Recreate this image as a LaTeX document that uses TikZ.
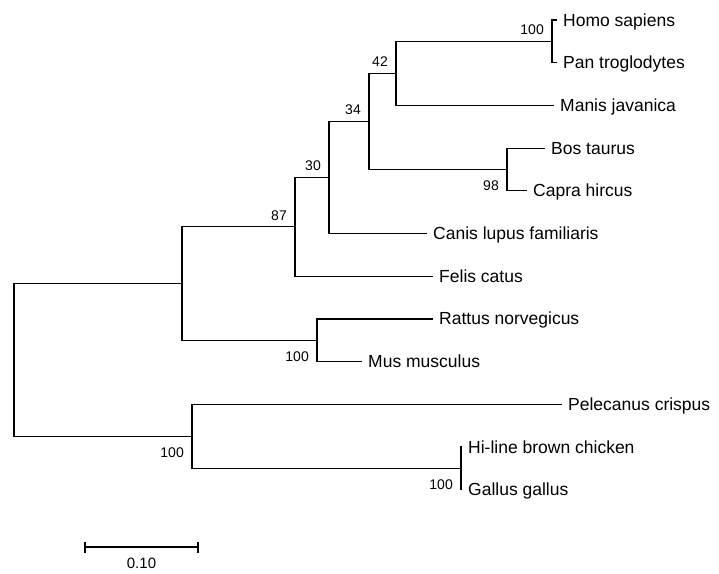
\documentclass[tikz,border=0pt]{standalone}
\usepackage{fontspec}
\setmainfont{Liberation Sans}
\usepackage{tikz}
\usetikzlibrary{arrows.meta, calc}
\newcommand{\taxonfont}{\fontsize{17.5}{20}\selectfont}
\newcommand{\bootfont}{\fontsize{14}{16}\selectfont}
\tikzset{
  branch/.style={draw=black, line width=1.2pt},
  taxon/.style={anchor=base west, inner sep=0pt, xshift=6pt, yshift=-6pt, font=\taxonfont},
  bootval/.style={anchor=base east, inner sep=0pt, xshift=-8pt, font=\bootfont},
  boot-up/.style={bootval, yshift=6.5pt},
  boot-down/.style={bootval, yshift=-21.5pt},
  scalebar/.style={
    {Bar[width=11pt]}-{Bar[width=11pt]}, draw=black, line width=1.6pt
  }
}

\begin{document}
\begin{tikzpicture}[x=1pt, y=-1pt]
  \useasboundingbox (0,0) rectangle (719,573);

  % internal nodes
  \coordinate (nHP)   at (552, 41.35);
  \coordinate (n42)   at (396, 73.4);
  \coordinate (nBC)   at (507, 169.45);
  \coordinate (n34)   at (369, 121.4);
  \coordinate (n30)   at (329, 177.45);
  \coordinate (n87)   at (295, 226.8);
  \coordinate (nRM)   at (317, 340.25);
  \coordinate (nMam)  at (182, 283.5);
  \coordinate (nGG)   at (461, 468.35);
  \coordinate (nBird) at (192, 436.3);
  \coordinate (nRoot) at (14, 359.9);

  % tips
  \coordinate (tHomo)   at (557, 20);
  \coordinate (tPan)    at (557, 62.7);
  \coordinate (tManis)  at (554, 105.4);
  \coordinate (tBos)    at (545, 148.1);
  \coordinate (tCapra)  at (527, 190.8);
  \coordinate (tCanis)  at (427, 233.5);
  \coordinate (tFelis)  at (433, 276.2);
  \coordinate (tRattus) at (433, 318.9);
  \coordinate (tMus)    at (362, 361.6);
  \coordinate (tPele)   at (562, 404.3);
  \coordinate (tHiline) at (462, 447);
  \coordinate (tGallus) at (462, 489.7);

  \node[taxon] (homo)   at (tHomo)   {Homo sapiens};
  \node[taxon] (pan)    at (tPan)    {Pan troglodytes};
  \node[taxon] (manis)  at (tManis)  {Manis javanica};
  \node[taxon] (bos)    at (tBos)    {Bos taurus};
  \node[taxon] (capra)  at (tCapra)  {Capra hircus};
  \node[taxon] (canis)  at (tCanis)  {Canis lupus familiaris};
  \node[taxon] (felis)  at (tFelis)  {Felis catus};
  \node[taxon] (rattus) at (tRattus) {Rattus norvegicus};
  \node[taxon] (mus)    at (tMus)    {Mus musculus};
  \node[taxon] (pele)   at (tPele)   {Pelecanus crispus};
  \node[taxon] (hiline, xshift=-1pt) at (tHiline) {Hi-line brown chicken};
  \node[taxon] (gallus) at (tGallus) {Gallus gallus};

  \draw[branch] (nHP) |- (tHomo);
  \draw[branch] (nHP) |- (tPan);
  \draw[branch] (n42) |- (nHP);
  \draw[branch] (n42) |- (tManis);
  \draw[branch] (nBC) |- (tBos);
  \draw[branch] (nBC) |- (tCapra);
  \draw[branch] (n34) |- (n42);
  \draw[branch] (n34) |- (nBC);
  \draw[branch] (n30) |- (n34);
  \draw[branch] (n30) |- (tCanis);
  \draw[branch] (n87) |- (n30);
  \draw[branch] (n87) |- (tFelis);
  \draw[branch] (nRM) |- (tRattus);
  \draw[branch] (nRM) |- (tMus);
  \draw[branch] (nMam) |- (n87);
  \draw[branch] (nMam) |- (nRM);
  \draw[branch] (nGG) |- (tHiline);
  \draw[branch] (nGG) |- (tGallus);
  \draw[branch] (nBird) |- (tPele);
  \draw[branch] (nBird) |- (nGG);
  \draw[branch] (nRoot) |- (nMam);
  \draw[branch] (nRoot) |- (nBird);

  \node[boot-up]   (bHP)   at (nHP)   {100};
  \node[boot-up]   (b42)   at (n42)   {42};
  \node[boot-up]   (b34)   at (n34)   {34};
  \node[boot-up]   (b30)   at (n30)   {30};
  \node[boot-up]   (b87)   at (n87)   {87};
  \node[boot-down] (bBC)   at (nBC)   {98};
  \node[boot-down] (bRM)   at (nRM)   {100};
  \node[boot-down] (bBird) at (nBird) {100};
  \node[boot-down] (bGG)   at (nGG)   {100};

  % scale bar
  \coordinate (sbL) at (84, 547);
  \coordinate (sbR) at (199, 547);
  \draw[scalebar] (sbL) -- (sbR);
  \node[font=\fontsize{15}{17}\selectfont, anchor=base, inner sep=0pt, yshift=-21pt]
    (sblabel) at ($(sbL)!0.5!(sbR)$) {0.10};
\end{tikzpicture}
\end{document}
